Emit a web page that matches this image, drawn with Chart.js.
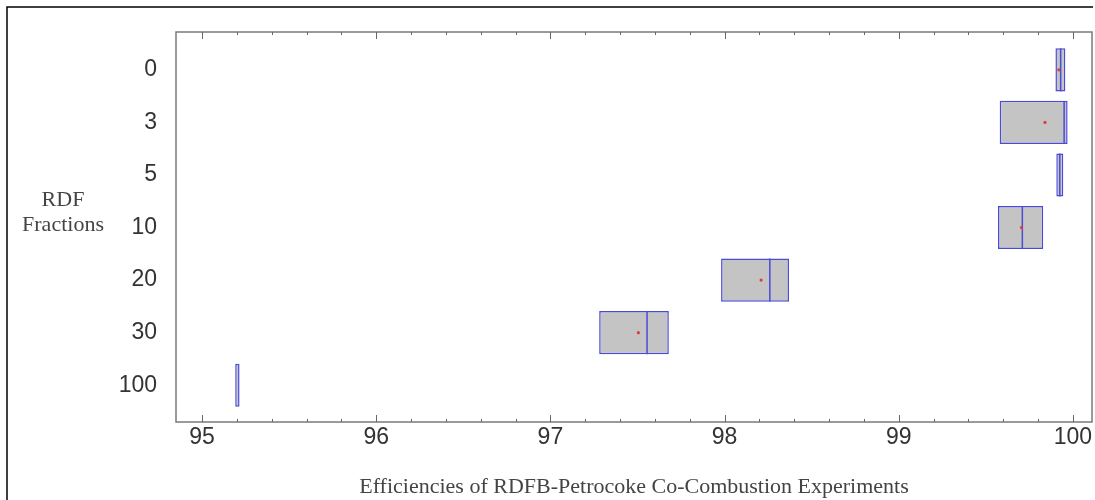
<!DOCTYPE html>
<html>
<head>
<meta charset="utf-8">
<script src="https://cdn.jsdelivr.net/npm/chart.js@4.4.1/dist/chart.umd.min.js"></script>
<style>
  html, body { margin: 0; padding: 0; background: #fff; }
  #wrap { width: 1095px; height: 500px; }
</style>
</head>
<body>
<div id="wrap"><canvas id="boxChart" width="1095" height="500"></canvas></div>
<script>
// RDF fractions (rows, top to bottom)
const fractions = ["0", "3", "5", "10", "20", "30", "100"];
// box edges (lower / upper quartile), median, mean  -- efficiency %
const q1 = [99.90, 99.58, 99.905, 99.57, 97.98, 97.28, 95.19];
const q3 = [99.957, 99.97, 99.945, 99.83, 98.37, 97.68, 95.215];
const medians = [99.93, 99.95, 99.925, 99.71, 98.26, 97.555, null];
const means = [99.92, 99.84, null, 99.705, 98.21, 97.505, null];
const xTicks = [95, 96, 97, 98, 99, 100];

const blue = "#4b4bd8";

// frame, inward tick marks, y title, outer border
const framePlugin = {
  id: "frame",
  afterDraw(chart) {
    const { ctx, chartArea: a, scales } = chart;
    ctx.save();
    ctx.strokeStyle = "#000";
    ctx.lineWidth = 1.5;
    ctx.beginPath();
    ctx.moveTo(7, 500);
    ctx.lineTo(7, 7);
    ctx.lineTo(1093, 7);
    ctx.stroke();

    ctx.strokeStyle = "#7a7a7a";
    ctx.lineWidth = 1.5;
    ctx.strokeRect(a.left, a.top, a.right - a.left, a.bottom - a.top);

    ctx.lineWidth = 1;
    ctx.strokeStyle = "#666";
    for (let k = 0; k <= 25; k++) {
      const v = 95 + k * 0.2;
      const px = Math.round(scales.x.getPixelForValue(v)) + 0.5;
      const len = k % 5 === 0 ? 7 : 3;
      ctx.beginPath();
      ctx.moveTo(px, a.bottom);
      ctx.lineTo(px, a.bottom - len);
      ctx.moveTo(px, a.top);
      ctx.lineTo(px, a.top + len);
      ctx.stroke();
    }

    ctx.fillStyle = "#444";
    ctx.font = "22px 'Liberation Serif', 'Times New Roman', serif";
    ctx.textAlign = "center";
    ctx.textBaseline = "middle";
    ctx.fillText("RDF", 63, 200);
    ctx.fillText("Fractions", 63, 225);
    ctx.restore();
  }
};

const ctx = document.getElementById("boxChart").getContext("2d");
const boxChart = new Chart(ctx, {
  type: "bar",
  data: {
    datasets: [
      {
        label: "box",
        data: fractions.map((f, i) => ({ x: [q1[i], q3[i]], y: i })),
        backgroundColor: "#c4c4c4",
        borderColor: blue,
        borderWidth: 1.5,
        borderSkipped: false,
        barPercentage: 0.82,
        categoryPercentage: 1,
        order: 3
      },
      {
        type: "scatter",
        label: "median",
        data: medians.map((m, i) => ({ x: m, y: i })),
        pointStyle: "line",
        rotation: 90,
        radius: 21.5,
        borderColor: blue,
        borderWidth: 1.5,
        order: 2
      },
      {
        type: "scatter",
        label: "mean",
        data: means.map((m, i) => ({ x: m, y: i })),
        pointStyle: "circle",
        radius: 1.6,
        backgroundColor: "#e03c3c",
        borderWidth: 0,
        order: 1
      }
    ]
  },
  options: {
    indexAxis: "y",
    responsive: false,
    animation: false,
    layout: { autoPadding: false, padding: { top: 32, right: 3, left: 0, bottom: 0 } },
    plugins: { legend: { display: false }, tooltip: { enabled: false } },
    scales: {
      x: {
        type: "linear",
        min: 94.85,
        max: 100.11,
        grid: { display: false, drawTicks: false },
        border: { display: false },
        afterBuildTicks: (s) => { s.ticks = xTicks.map((v) => ({ value: v })); },
        afterFit: (s) => { s.height = 78; s.paddingLeft = 0; s.paddingRight = 0; },
        ticks: {
          font: { family: "'Liberation Sans', Arial, sans-serif", size: 23 },
          color: "#333",
          padding: 2,
          maxRotation: 0,
          autoSkip: false
        },
        title: {
          display: true,
          text: "Efficiencies of RDFB-Petrocoke Co-Combustion Experiments",
          font: { family: "'Liberation Serif', 'Times New Roman', serif", size: 22 },
          color: "#444",
          padding: { top: 0, bottom: 0 }
        }
      },
      y: {
        type: "linear",
        reverse: true,
        offset: false,
        min: -0.72,
        max: 6.7,
        grid: { display: false, drawTicks: false },
        border: { display: false },
        afterBuildTicks: (s) => { s.ticks = fractions.map((f, i) => ({ value: i })); },
        afterFit: (s) => { s.width = 176; s.paddingTop = 0; s.paddingBottom = 0; },
        ticks: {
          callback: (v) => fractions[v],
          font: { family: "'Liberation Sans', Arial, sans-serif", size: 23 },
          color: "#333",
          padding: 19,
          autoSkip: false
        }
      }
    }
  },
  plugins: [framePlugin]
});
</script>
</body>
</html>
